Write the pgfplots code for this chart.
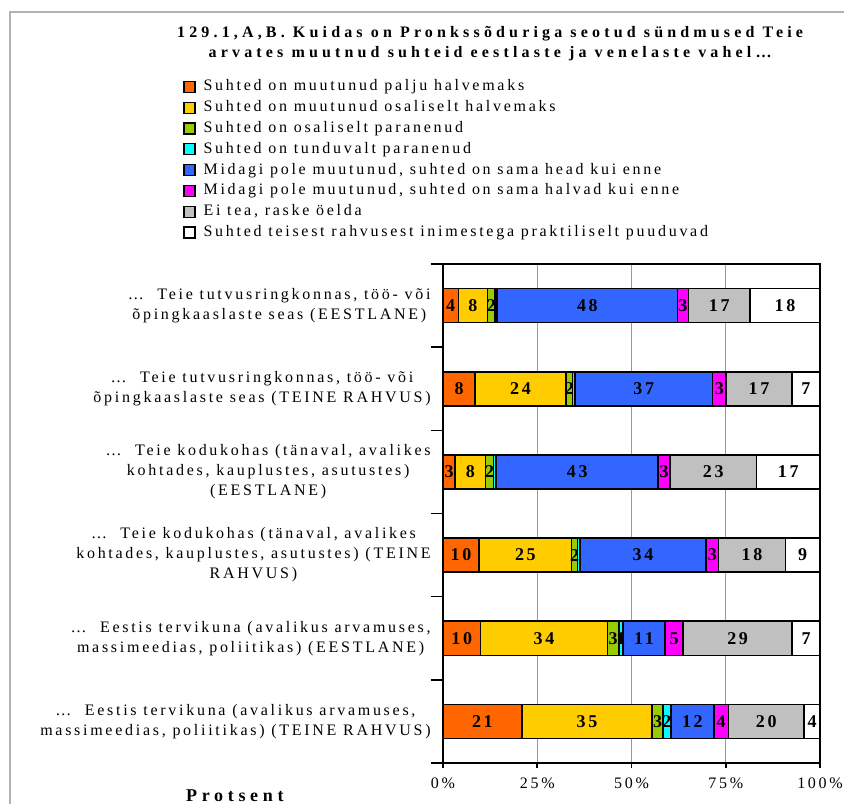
\documentclass[border=0pt]{standalone}
\usepackage{pgfplots}
\pgfplotsset{compat=1.18}
\usepackage{pgfplotstable}
\usepackage{fontspec}
\setmainfont{Liberation Serif}[LetterSpace=17]
\newfontfamily\titlefont{Liberation Serif}[LetterSpace=26]
\newfontfamily\barfont{Liberation Serif}[LetterSpace=15]
\newcommand\chartfont{\fontsize{8pt}{10pt}\selectfont}

\definecolor{cOrange}{HTML}{FF6600}
\definecolor{cYellow}{HTML}{FFCC00}
\definecolor{cGreen}{HTML}{99CC00}
\definecolor{cCyan}{HTML}{00FFFF}
\definecolor{cBlue}{HTML}{3366FF}
\definecolor{cPink}{HTML}{FF00FF}
\definecolor{cGray}{HTML}{C0C0C0}

% widths, labels as printed
\pgfplotstableread{
y w1 w2 w3 w4 w5 w6 w7 w8 l1 l2 l3 l4 l5 l6 l7 l8
0 4.1 7.7 2.0 0.6 47.8 2.9 16.3 18.6 4 8 2 {} 48 3 17 18
1 8.5 24.1 1.8 0.6 36.5 3.6 17.4 7.5 8 24 2 {} 37 3 17 7
2 3.2 8.1 2.1 0.7 43.0 3.1 23.0 16.8 3 8 2 {} 43 3 23 17
3 9.6 24.5 1.6 0.6 33.5 3.3 17.7 9.2 10 25 2 {} 34 3 18 9
4 10.0 33.6 3.1 1.0 11.2 4.8 28.9 7.4 10 34 3 1 11 5 29 7
5 20.9 34.6 2.9 2.0 11.5 3.8 20.1 4.2 21 35 3 2 12 4 20 4
}\data

\begin{document}
\begin{tikzpicture}
\useasboundingbox (-221.5pt,-20pt) rectangle (200.5pt,381.5pt);
\draw[gray!60, line width=0.8pt] (-216.5pt,-30pt) -- (-216.5pt,375.5pt) -- (210pt,375.5pt);
\begin{axis}[
    at={(0,0)}, anchor=south west,
    scale only axis,
    width=188.5pt, height=249.5pt,
    xbar stacked,
    bar width=0.41,
    xmin=0, xmax=100,
    ymin=-0.5, ymax=5.5,
    y dir=reverse,
    clip=false,
    axis line style={black, line width=0.8pt},
    xtick={0,25,50,75,100},
    xticklabel={\pgfmathprintnumber{\tick}\%},
    /pgf/number format/assume math mode=true,
    xmajorgrids,
    grid style={gray!80, line width=0.6pt},
    ytick={0,1,2,3,4,5},
    yticklabels={
        {\ldots\ \ Teie tutvusringkonnas, töö- või\\õpingkaaslaste seas (EESTLANE)},
        {\ldots\ \ Teie tutvusringkonnas, töö- või\\õpingkaaslaste seas (TEINE RAHVUS)},
        {\ldots\ \ Teie kodukohas (tänaval, avalikes\\kohtades, kauplustes, asutustes)\\(EESTLANE)},
        {\ldots\ \ Teie kodukohas (tänaval, avalikes\\kohtades, kauplustes, asutustes) (TEINE\\RAHVUS)},
        {\ldots\ \ Eestis tervikuna (avalikus arvamuses,\\massimeedias, poliitikas) (EESTLANE)},
        {\ldots\ \ Eestis tervikuna (avalikus arvamuses,\\massimeedias, poliitikas) (TEINE RAHVUS)}},
    major y tick style={draw=none},
    minor ytick={-0.5,0.5,1.5,2.5,3.5,4.5,5.5},
    minor tick length=6pt,
    major tick length=2.5pt,
    tick align=outside,
    tick pos=left,
    tick style={black, line width=0.8pt},
    yticklabel style={align=center, font=\chartfont, inner sep=0pt, xshift=-3.5pt},
    xticklabel style={font=\chartfont, yshift=-1.5pt},
    xlabel={\bfseries Protsent},
    xlabel style={at={(axis description cs:-0.552,-0.066)}, anchor=center,
        font=\fontsize{9pt}{11pt}\selectfont\titlefont},
    nodes near coords,
    point meta=explicit symbolic,
    every node near coord/.append style={font=\fontsize{9pt}{11pt}\selectfont\barfont\bfseries, anchor=center},
    every axis plot/.append style={draw=black, line width=0.8pt},
    legend image code/.code={\draw[#1, draw=black, line width=0.6pt] (0pt,-2.75pt) rectangle (5.5pt,2.75pt);},
    legend cell align=left,
    legend style={at={(-0.6897,1.3737)}, anchor=north west, draw=none, fill=none,
        font=\chartfont, inner sep=0pt, row sep=1.4pt,
        nodes={inner sep=1pt, text height=5.5pt, text depth=1.5pt},
        /tikz/every odd column/.append style={column sep=3pt}},
]
\addplot[fill=cOrange] table[x=w1, y=y, meta=l1] {\data};
\addplot[fill=cYellow] table[x=w2, y=y, meta=l2] {\data};
\addplot[fill=cGreen] table[x=w3, y=y, meta=l3] {\data};
\addplot[fill=cCyan] table[x=w4, y=y, meta=l4] {\data};
\addplot[fill=cBlue] table[x=w5, y=y, meta=l5] {\data};
\addplot[fill=cPink] table[x=w6, y=y, meta=l6] {\data};
\addplot[fill=cGray] table[x=w7, y=y, meta=l7] {\data};
\addplot[fill=white] table[x=w8, y=y, meta=l8] {\data};
\legend{Suhted on muutunud palju halvemaks,
    Suhted on muutunud osaliselt halvemaks,
    Suhted on osaliselt paranenud,
    Suhted on tunduvalt paranenud,
    {Midagi pole muutunud, suhted on sama head  kui enne},
    {Midagi pole muutunud, suhted on sama halvad kui enne},
    {Ei tea, raske öelda},
    Suhted teisest rahvusest inimestega praktiliselt puuduvad}
\node[font=\chartfont\titlefont\bfseries, align=center] at (axis description cs:0.125,1.441)
    {129.1,A,B. Kuidas on Pronkssõduriga seotud sündmused Teie\\arvates muutnud suhteid eestlaste ja venelaste vahel\ldots};
\end{axis}
\end{tikzpicture}
\end{document}
